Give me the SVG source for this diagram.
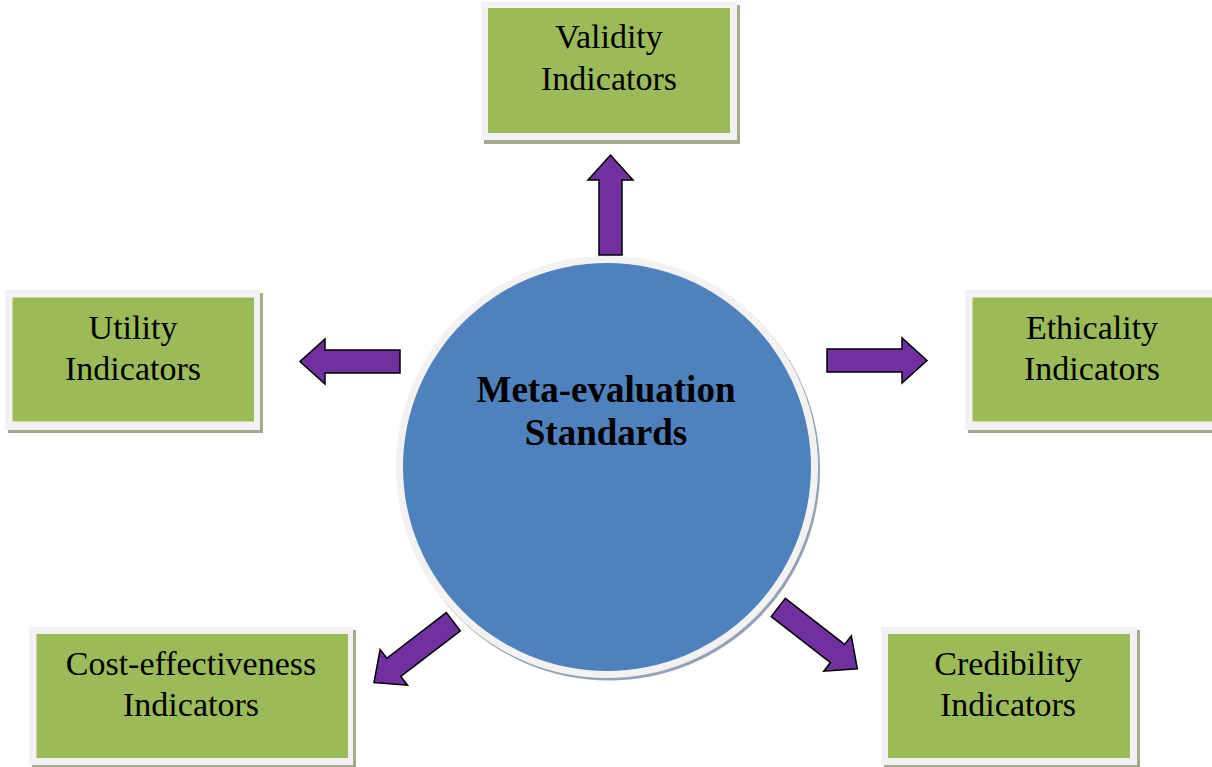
<svg xmlns="http://www.w3.org/2000/svg" width="1212" height="767" viewBox="0 0 1212 767">
  <style>
    .shadow { fill: #a4aa8c; }
    .frame { fill: #f2f2f2; }
    .box { fill: #9bbb59; }
    .label { font-family: "Liberation Serif", "Times New Roman", serif; font-size: 34px; fill: #000; text-anchor: middle; }
    .title { font-family: "Liberation Serif", "Times New Roman", serif; font-size: 37px; font-weight: bold; fill: #000; text-anchor: middle; }
    .arrow { fill: #7030a0; stroke: #000; stroke-width: 1.5; stroke-linejoin: miter; }
  </style>
  <defs>
    <!-- block arrow pointing right: tail centre at origin, tip at (100,0) -->
    <path id="blockArrow" d="M0,-11.5 H75 V-22.5 L100,0 L75,22.5 V11.5 H0 Z"/>
  </defs>
  <rect width="1212" height="767" fill="#ffffff"/>

  <!-- connectors -->
  <g id="connectors" class="arrow">
    <use href="#blockArrow" transform="translate(610.5,255) rotate(-90)"/>
    <use href="#blockArrow" transform="translate(400,361.5) rotate(180)"/>
    <use href="#blockArrow" transform="translate(827,360.5)"/>
    <use href="#blockArrow" transform="translate(453.3,621.7) rotate(142.5)"/>
    <use href="#blockArrow" transform="translate(778.3,607.5) rotate(37.8)"/>
  </g>

  <!-- central node -->
  <g id="center">
    <circle cx="609" cy="469.5" r="211" fill="#95a2b6"/>
    <circle cx="607" cy="467" r="211" fill="#f2f2f2"/>
    <circle cx="607" cy="467" r="204" fill="#4f81bd"/>
    <text class="title" x="606" y="402">Meta-evaluation</text>
    <text class="title" x="606" y="445">Standards</text>
  </g>

  <g id="validity">
    <rect class="shadow" x="484" y="5" width="256" height="139"/>
    <rect class="frame" x="481" y="2" width="256" height="138"/>
    <rect class="box" x="488" y="8" width="242" height="125"/>
    <text class="label" x="609" y="48">Validity</text>
    <text class="label" x="609" y="90">Indicators</text>
  </g>

  <g id="utility">
    <rect class="shadow" x="8" y="293" width="255" height="140"/>
    <rect class="frame" x="5" y="290" width="255" height="140"/>
    <rect class="box" x="12.5" y="297.5" width="241.5" height="124"/>
    <text class="label" x="133" y="339">Utility</text>
    <text class="label" x="133" y="380">Indicators</text>
  </g>

  <g id="ethicality">
    <rect class="shadow" x="968" y="293" width="260" height="140"/>
    <rect class="frame" x="965" y="290" width="260" height="140"/>
    <rect class="box" x="972.5" y="297.5" width="250" height="124"/>
    <text class="label" x="1092" y="339">Ethicality</text>
    <text class="label" x="1092" y="380">Indicators</text>
  </g>

  <g id="cost-effectiveness">
    <rect class="shadow" x="32" y="630" width="324" height="138"/>
    <rect class="frame" x="29" y="627" width="324" height="138"/>
    <rect class="box" x="36.5" y="634" width="311.5" height="124"/>
    <text class="label" x="191" y="675">Cost-effectiveness</text>
    <text class="label" x="191" y="716">Indicators</text>
  </g>

  <g id="credibility">
    <rect class="shadow" x="884" y="630" width="256" height="138"/>
    <rect class="frame" x="881" y="627" width="256" height="138"/>
    <rect class="box" x="888" y="634" width="242" height="124"/>
    <text class="label" x="1008" y="675">Credibility</text>
    <text class="label" x="1008" y="716">Indicators</text>
  </g>
</svg>
